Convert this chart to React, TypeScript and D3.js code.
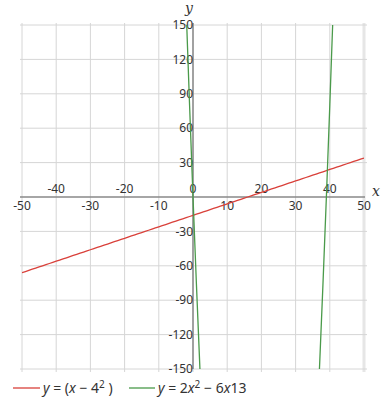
import React from "react";
import * as d3 from "d3";

// Sample points along x (integers) and the axis ticks
const xDomain: [number, number] = [-50, 50];
const yDomain: [number, number] = [-150, 150];
const xTicks = [-50, -40, -30, -20, -10, 0, 10, 20, 30, 40, 50];
const yTicks = [-150, -120, -90, -60, -30, 30, 60, 90, 120, 150];
const sampleX = d3.range(-50, 51, 1);

// y = (x − 4²)  and  y = 2x² − 6x·13
const redValues = sampleX.map((x) => x - 16);
const greenValues = sampleX.map((x) => 2 * x * x - 78 * x);

const seriesNames = ["red", "green"];
const seriesColors = ["#d9403a", "#4a9a4a"];

const W = 384;
const H = 409;
const left = 22;
const right = 364;
const top = 25;
const bottom = 369;

export default function App() {
  const x = d3.scaleLinear().domain(xDomain).range([left, right]);
  const y = d3.scaleLinear().domain(yDomain).range([bottom, top]);
  const x0 = x(0);
  const y0 = y(0);

  const line = d3
    .line<[number, number]>()
    .x((d) => x(d[0]))
    .y((d) => y(d[1]));

  const redPts: [number, number][] = sampleX.map((v, i) => [v, redValues[i]]);
  const greenPts: [number, number][] = sampleX.map((v, i) => [v, greenValues[i]]);
  const series = [redPts, greenPts];

  const font = "'Noto Sans', 'Open Sans', sans-serif";

  return (
    <svg
      width={W}
      height={H}
      style={{ position: "absolute", left: 0, top: 0, background: "#fff" }}
    >
      <defs>
        <clipPath id="plot">
          <rect x={left} y={top} width={right - left} height={bottom - top} />
        </clipPath>
      </defs>

      {/* grid */}
      {xTicks.map((t) => (
        <line
          key={"gx" + t}
          x1={x(t)}
          x2={x(t)}
          y1={top - 2}
          y2={bottom + 3}
          stroke="#d6d6d6"
          strokeWidth={t === 50 ? 3 : 1}
          opacity={t === 50 ? 0.6 : 1}
        />
      ))}
      {yTicks.map((t) => (
        <line
          key={"gy" + t}
          x1={left - 2}
          x2={right + 3}
          y1={y(t)}
          y2={y(t)}
          stroke="#d6d6d6"
          strokeWidth={1}
        />
      ))}

      {/* axes */}
      <line x1={left - 2} x2={right + 1} y1={y0} y2={y0} stroke="#888" strokeWidth={1.5} />
      <line x1={x0} x2={x0} y1={top - 2} y2={bottom} stroke="#888" strokeWidth={1.5} />

      {/* x tick labels: alternate above / below */}
      {xTicks.map((t, i) => (
        <text
          key={"lx" + t}
          x={x(t)}
          y={i % 2 === 1 || t === 0 ? y0 - 4 : y0 + 13}
          textAnchor="middle"
          fontFamily={font}
          fontSize={12}
          fill="#333"
        >
          {t}
        </text>
      ))}
      {/* y tick labels */}
      {yTicks.map((t) => (
        <text
          key={"ly" + t}
          x={x0}
          y={y(t)}
          dy="0.35em"
          textAnchor="end"
          fontFamily={font}
          fontSize={12}
          fill="#333"
        >
          {t}
        </text>
      ))}

      {/* axis names */}
      <text x={x0 - 8} y={13} fontFamily="'DejaVu Serif', serif" fontStyle="italic" fontSize={14} fill="#333">
        y
      </text>
      <text x={right + 8} y={y0 - 1} fontFamily="'DejaVu Serif', serif" fontStyle="italic" fontSize={14} fill="#333">
        x
      </text>

      {/* curves */}
      <g clipPath="url(#plot)">
        {series.map((pts, i) => (
          <path
            key={seriesNames[i]}
            d={line(pts) || ""}
            fill="none"
            stroke={seriesColors[i]}
            strokeWidth={1.3}
          />
        ))}
      </g>

      {/* legend */}
      <g fontFamily={font} fontSize={14} fill="#333">
        <line x1={13} x2={40} y1={388} y2={388} stroke={seriesColors[0]} strokeWidth={1.3} />
        <text x={43} y={393}>
          <tspan fontStyle="italic">y</tspan>
          <tspan>{" = ("}</tspan>
          <tspan fontStyle="italic">x</tspan>
          <tspan>{" − 4"}</tspan>
          <tspan fontSize={10} dy={-5}>2</tspan>
          <tspan dy={5}>{" )"}</tspan>
        </text>
        <line x1={129} x2={155} y1={388} y2={388} stroke={seriesColors[1]} strokeWidth={1.3} />
        <text x={158} y={393}>
          <tspan fontStyle="italic">y</tspan>
          <tspan>{" = 2"}</tspan>
          <tspan fontStyle="italic">x</tspan>
          <tspan fontSize={10} dy={-5}>2</tspan>
          <tspan dy={5}>{"  − 6"}</tspan>
          <tspan fontStyle="italic">x</tspan>
          <tspan>13</tspan>
        </text>
      </g>
    </svg>
  );
}
